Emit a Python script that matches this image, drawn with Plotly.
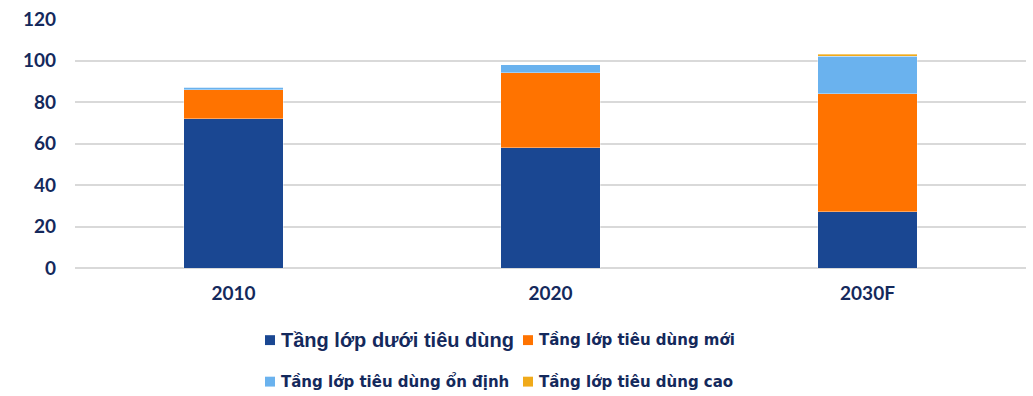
import plotly.graph_objects as go

categories = ["2010", "2020", "2030F"]
series_names = [
    "Tầng lớp dưới tiêu dùng",
    "Tầng lớp tiêu dùng mới",
    "Tầng lớp tiêu dùng ổn định",
    "Tầng lớp tiêu dùng cao",
]
duoi_tieu_dung = [72, 58, 27]
tieu_dung_moi = [14, 36, 57]
tieu_dung_on_dinh = [1, 4, 18]
tieu_dung_cao = [0, 0, 1]
y_ticks = [0, 20, 40, 60, 80, 100, 120]

colors = ["#1A4792", "#FF7300", "#6AB2EE", "#F0AA1A"]
TEXT = "#14295C"

fig = go.Figure()
for name, vals, col in zip(series_names,
                           [duoi_tieu_dung, tieu_dung_moi, tieu_dung_on_dinh, tieu_dung_cao],
                           colors):
    fig.add_trace(go.Bar(
        x=categories, y=vals, name=name,
        marker=dict(color=col, line=dict(color="rgba(255,255,255,0.45)", width=0.8)),
        showlegend=False,
    ))

W, H = 1033, 396
ml, mr, mt, mb = 75, 7, 16, 128
pw = W - ml - mr
ph = H - mt - mb


def px(x):
    return (x - ml) / pw


def py(y):
    return (H - mb - y) / ph


# manual legend (two rows, two columns)
legend_items = [
    (series_names[0], colors[0], 265, 341, 20, "Liberation Sans, Arial, sans-serif"),
    (series_names[1], colors[1], 523, 341, 15, "DejaVu Sans, Verdana, sans-serif"),
    (series_names[2], colors[2], 265, 383, 15, "DejaVu Sans, Verdana, sans-serif"),
    (series_names[3], colors[3], 523, 383, 15, "DejaVu Sans, Verdana, sans-serif"),
]
for name, col, x0, yc, fs, fam in legend_items:
    fig.add_shape(type="rect", xref="paper", yref="paper",
                  x0=px(x0), x1=px(x0 + 10), y0=py(yc + 5), y1=py(yc - 5),
                  fillcolor=col, line=dict(width=0))
    fig.add_annotation(xref="paper", yref="paper", x=px(x0 + 14), y=py(yc),
                       xanchor="left", yanchor="middle", showarrow=False,
                       text="<b>" + name + "</b>",
                       font=dict(family=fam, size=fs, color=TEXT))

fig.update_layout(
    barmode="stack",
    bargap=0.685,
    width=W, height=H,
    margin=dict(l=ml, r=mr, t=mt, b=mb),
    plot_bgcolor="white", paper_bgcolor="white",
    font=dict(family="Lato, Open Sans, sans-serif", color=TEXT),
    xaxis=dict(
        showgrid=False, showline=False, ticks="",
        tickfont=dict(size=19, family="Lato, sans-serif", color=TEXT, weight="bold"),
        ticklabelstandoff=12,
    ),
    yaxis=dict(
        range=[0, 120], tickvals=y_ticks,
        showgrid=True, gridcolor="#D9D9D9", gridwidth=1.6,
        zeroline=True, zerolinecolor="#D9D9D9", zerolinewidth=1.6,
        showline=False, ticks="",
        tickfont=dict(size=19, family="Lato, sans-serif", color=TEXT, weight="bold"),
        ticklabelstandoff=18,
    ),
)

fig.write_html(
    "out.html",
    config={"displayModeBar": False},
    post_script="document.body.style.margin='0';document.body.style.overflow='hidden';",
)
